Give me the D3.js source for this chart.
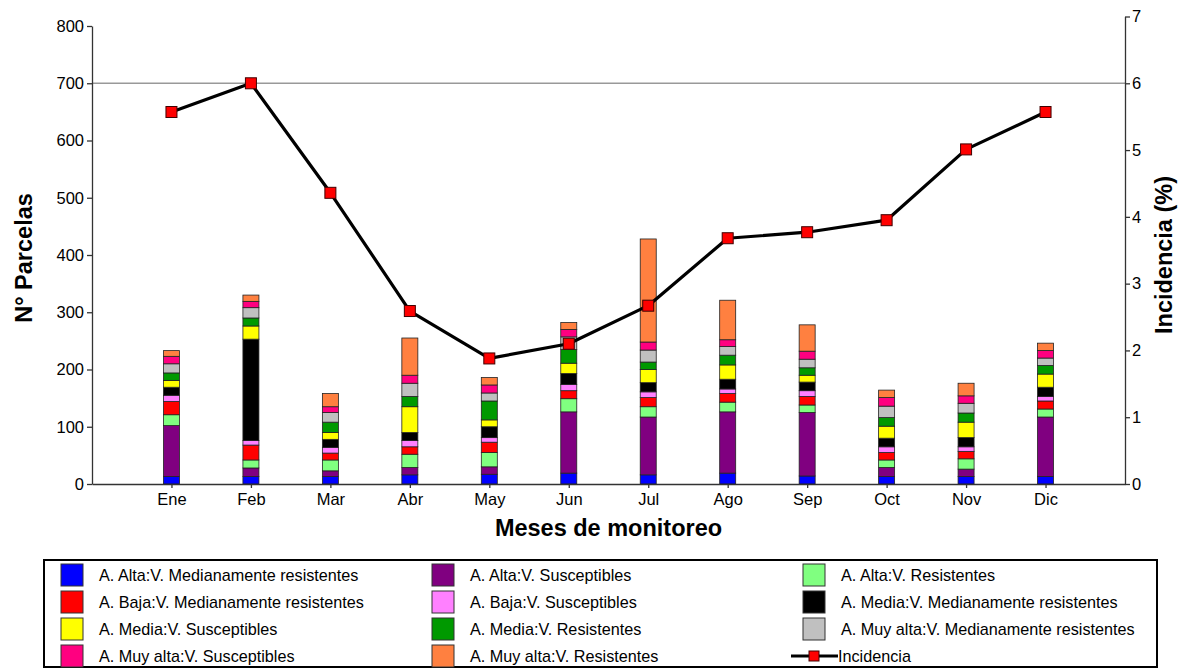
<!DOCTYPE html>
<html>
<head>
<meta charset="utf-8">
<script src="https://cdn.jsdelivr.net/npm/d3@7"></script>
<style>
  body { margin: 0; background: #fff; }
  svg { font-family: "Liberation Sans", Arial, sans-serif; }
</style>
</head>
<body>
<div id="chart"></div>
<script>
const width = 1178;
const height = 672;

// data //////////////////////////////
const months = ["Ene", "Feb", "Mar", "Abr", "May", "Jun", "Jul", "Ago", "Sep", "Oct", "Nov", "Dic"];

const altaMR = [13, 13, 13, 16, 17, 19, 16, 19, 14, 13, 13, 13];
const altaS = [89, 15, 10, 13, 13, 107, 101, 107, 111, 16, 13, 104];
const altaR = [19, 14, 19, 23, 25, 23, 18, 17, 13, 13, 18, 14];
const bajaMR = [23, 26, 12, 13, 18, 14, 16, 15, 15, 13, 13, 14];
const bajaS = [11, 8, 10, 11, 8, 11, 10, 8, 10, 10, 8, 8];
const mediaMR = [14, 177, 14, 14, 19, 19, 16, 17, 15, 15, 16, 16];
const mediaS = [12, 23, 12, 45, 12, 18, 23, 25, 12, 21, 27, 23];
const mediaR = [13, 14, 18, 18, 33, 24, 13, 17, 13, 15, 16, 15];
const muyAltaMR = [16, 18, 17, 23, 14, 22, 21, 15, 15, 20, 17, 13];
const muyAltaS = [13, 11, 10, 14, 14, 13, 14, 12, 14, 15, 13, 13];
const muyAltaR = [10, 11, 23, 65, 13, 12, 180, 69, 46, 13, 22, 13];

const incidencia = [5.57, 6.0, 4.36, 2.59, 1.88, 2.1, 2.67, 3.68, 3.77, 3.95, 5.01, 5.57];

const seriesNames = [
  "A. Alta:V. Medianamente resistentes",
  "A. Alta:V. Susceptibles",
  "A. Alta:V. Resistentes",
  "A. Baja:V. Medianamente resistentes",
  "A. Baja:V. Susceptibles",
  "A. Media:V. Medianamente resistentes",
  "A. Media:V. Susceptibles",
  "A. Media:V. Resistentes",
  "A. Muy alta:V. Medianamente resistentes",
  "A. Muy alta:V. Susceptibles",
  "A. Muy alta:V. Resistentes"
];
const seriesValues = [altaMR, altaS, altaR, bajaMR, bajaS, mediaMR, mediaS, mediaR, muyAltaMR, muyAltaS, muyAltaR];
const seriesColors = ["#0000ff", "#800080", "#80ff80", "#ff0000", "#ff80ff", "#000000",
  "#ffff00", "#009900", "#c0c0c0", "#ff0080", "#ff8040"];

const leftTicks = [0, 100, 200, 300, 400, 500, 600, 700, 800];
const rightTicks = [0, 1, 2, 3, 4, 5, 6, 7];

// table for d3.stack
const table = months.map((m, i) => {
  const row = { month: m };
  seriesNames.forEach((s, j) => { row[s] = seriesValues[j][i]; });
  return row;
});

// scales //////////////////////////////
const plotLeft = 92, plotRight = 1125, plotBottom = 484;

const x = d3.scalePoint().domain(months).range([plotLeft, plotRight]).padding(1);
const yLeft = d3.scaleLinear().domain([0, 800]).range([plotBottom, 26]);
const yRight = d3.scaleLinear().domain([0, 7]).range([plotBottom, 16.5]);
const color = d3.scaleOrdinal().domain(seriesNames).range(seriesColors);

const barWidth = 16;

const svg = d3.select("#chart")
  .append("svg")
  .attr("width", width)
  .attr("height", height);

// gridline at 700
svg.append("line")
  .attr("x1", plotLeft).attr("x2", plotRight)
  .attr("y1", yLeft(700)).attr("y2", yLeft(700))
  .style("stroke", "#999")
  .style("stroke-width", 1.3);

// stacked bars
const stacked = d3.stack().keys(seriesNames)(table);

svg.append("g")
  .selectAll("g")
  .data(stacked)
  .enter()
  .append("g")
  .attr("fill", d => color(d.key))
  .selectAll("rect")
  .data(d => d)
  .enter()
  .append("rect")
  .attr("x", d => x(d.data.month) - barWidth / 2)
  .attr("y", d => yLeft(d[1]))
  .attr("width", barWidth)
  .attr("height", d => yLeft(d[0]) - yLeft(d[1]))
  .style("stroke", "#222")
  .style("stroke-width", 0.8);

// axes
const axisStyle = g => {
  g.selectAll("path, line").style("stroke", "#333").style("stroke-width", 1.3);
  g.selectAll("text")
    .style("font-size", "16.5px")
    .style("fill", "#000")
    .style("font-family", "'Liberation Sans', Arial, sans-serif");
};

svg.append("g")
  .attr("transform", `translate(${plotLeft},0)`)
  .call(d3.axisLeft(yLeft).tickValues(leftTicks).tickSize(5).tickSizeOuter(0).tickPadding(3))
  .call(axisStyle);

svg.append("g")
  .attr("transform", `translate(${plotRight},0)`)
  .call(d3.axisRight(yRight).tickValues(rightTicks).tickFormat(d3.format("d")).tickSize(5).tickSizeOuter(0).tickPadding(2))
  .call(axisStyle);

svg.append("g")
  .attr("transform", `translate(0,${plotBottom})`)
  .call(d3.axisBottom(x).tickSize(4).tickSizeOuter(0).tickPadding(5))
  .call(axisStyle);

// incidence line
const line = d3.line()
  .x((d, i) => x(months[i]))
  .y(d => yRight(d));

svg.append("path")
  .datum(incidencia)
  .attr("d", line)
  .style("fill", "none")
  .style("stroke", "#000")
  .style("stroke-width", 3.2)
  .style("stroke-linejoin", "round");

svg.append("g")
  .selectAll("rect")
  .data(incidencia)
  .enter()
  .append("rect")
  .attr("x", (d, i) => x(months[i]) - 5.5)
  .attr("y", d => yRight(d) - 5.5)
  .attr("width", 11)
  .attr("height", 11)
  .style("fill", "#ff0000")
  .style("stroke", "#400000")
  .style("stroke-width", 1);

// axis titles
svg.append("text")
  .attr("x", (plotLeft + plotRight) / 2)
  .attr("y", 536)
  .attr("text-anchor", "middle")
  .style("font-size", "23.5px")
  .style("font-weight", "bold")
  .text("Meses de monitoreo");

svg.append("text")
  .attr("transform", "translate(31.5,258) rotate(-90)")
  .attr("text-anchor", "middle")
  .style("font-size", "23.5px")
  .style("font-weight", "bold")
  .text("N° Parcelas");

svg.append("text")
  .attr("transform", "translate(1172,255) rotate(-90)")
  .attr("text-anchor", "middle")
  .style("font-size", "23.5px")
  .style("font-weight", "bold")
  .text("Incidencia (%)");

// legend //////////////////////////////
const legend = svg.append("g");

legend.append("rect")
  .attr("x", 44).attr("y", 560)
  .attr("width", 1113).attr("height", 107)
  .style("fill", "#fff")
  .style("stroke", "#000")
  .style("stroke-width", 2);

const colX = [61, 432, 803];
const rowY = [575, 602, 629, 656];

const legendItems = seriesNames.map(s => ({ name: s, type: "bar" }));
legendItems.push({ name: "Incidencia", type: "line" });

legendItems.forEach((item, i) => {
  const cx = colX[i % 3];
  const cy = rowY[Math.floor(i / 3)];
  if (item.type === "bar") {
    legend.append("rect")
      .attr("x", cx).attr("y", cy - 11)
      .attr("width", 22).attr("height", 22)
      .style("fill", color(item.name))
      .style("stroke", "#333")
      .style("stroke-width", 1);
    legend.append("text")
      .attr("x", cx + 38).attr("y", cy + 5.5)
      .style("font-size", "16.2px")
      .text(item.name);
  } else {
    legend.append("line")
      .attr("x1", cx - 12).attr("x2", cx + 35)
      .attr("y1", cy).attr("y2", cy)
      .style("stroke", "#000")
      .style("stroke-width", 3);
    legend.append("rect")
      .attr("x", cx + 6).attr("y", cy - 5)
      .attr("width", 10).attr("height", 10)
      .style("fill", "#ff0000")
      .style("stroke", "#400000")
      .style("stroke-width", 1);
    legend.append("text")
      .attr("x", cx + 35).attr("y", cy + 5.5)
      .style("font-size", "16.2px")
      .text(item.name);
  }
});
</script>
</body>
</html>
